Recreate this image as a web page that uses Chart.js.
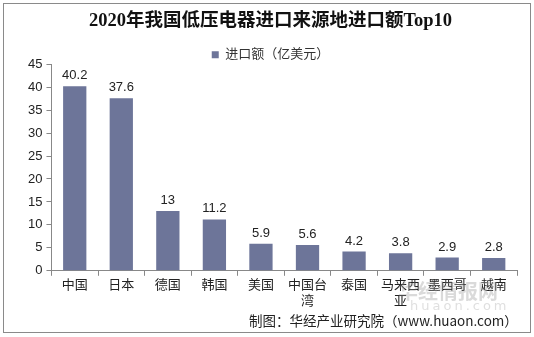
<!DOCTYPE html>
<html>
<head>
<meta charset="utf-8">
<script src="https://cdn.jsdelivr.net/npm/chart.js@4.4.0/dist/chart.umd.min.js"></script>
<style>
  html, body { margin: 0; padding: 0; background: #fff; }
  .wrap-chart { position: relative; width: 534px; height: 337px; }
  .frame { position: absolute; left: 3px; top: 3px; width: 526px; height: 328px; border: 1px solid #8a8a8a; pointer-events: none; }
  .source { position: absolute; left: 249px; top: 310px; font: 13.5px "Noto Sans CJK SC", sans-serif; color: #222; white-space: nowrap; }
  .mark { position: absolute; left: 398px; top: 276px; font: bold 20px "Noto Sans CJK SC", sans-serif; color: rgba(150,150,150,0.35); white-space: nowrap; }
  .mark2 { position: absolute; left: 410px; top: 298px; font: 13px "DejaVu Sans", sans-serif; letter-spacing: 3px; color: rgba(150,150,150,0.3); }
</style>
</head>
<body>
<div class="wrap-chart">
  <canvas width="534" height="337"></canvas>
  <div class="mark">华经情报网</div>
  <div class="mark2">huaon.com</div>
  <div class="source">制图：华经产业研究院（www.huaon.com）</div>
  <div class="frame"></div>
</div>
<script>
const countries = ['中国', '日本', '德国', '韩国', '美国', ['中国台', '湾'], '泰国', ['马来西', '亚'], '墨西哥', '越南'];
const imports = [40.2, 37.6, 13, 11.2, 5.9, 5.6, 4.2, 3.8, 2.9, 2.8];
const valueTicks = [0, 5, 10, 15, 20, 25, 30, 35, 40, 45];

const cjk = "'Liberation Sans', 'Noto Sans CJK SC', sans-serif";

// draw value over each bar
const barLabels = {
    id: 'barLabels',
    afterDatasetsDraw(chart) {
        const c = chart.ctx;
        c.save();
        c.font = '13px ' + cjk;
        c.fillStyle = '#222';
        c.textAlign = 'center';
        c.textBaseline = 'bottom';
        chart.getDatasetMeta(0).data.forEach((bar, i) => {
            c.fillText(imports[i], bar.x, bar.y - 4);
        });
        c.restore();
    }
};

// legend sits close to the plot, so trim its box
const tightLegend = {
    id: 'tightLegend',
    beforeInit(chart) {
        const fit = chart.legend.fit;
        chart.legend.fit = function () {
            fit.call(this);
            this.height -= 7;
        };
    }
};

const ctx = document.querySelector('.wrap-chart canvas').getContext('2d');
const chart = new Chart(ctx, {
    type: 'bar',
    data: {
        labels: countries,
        datasets: [{
            label: '进口额（亿美元）',
            data: imports,
            backgroundColor: '#6d7599',
            barPercentage: 0.5,
            categoryPercentage: 1
        }]
    },
    options: {
        responsive: false,
        animation: false,
        layout: { padding: { left: 24, right: 17, top: 2, bottom: 26 } },
        plugins: {
            title: {
                display: true,
                text: '2020年我国低压电器进口来源地进口额Top10',
                color: '#111',
                font: { family: "'Liberation Serif', 'Noto Sans CJK SC', serif", size: 18.5, weight: 'bold' },
                padding: { top: 8, bottom: 14 }
            },
            legend: {
                display: true,
                labels: {
                    boxWidth: 7, boxHeight: 7, padding: 2,
                    color: '#333',
                    font: { family: cjk, size: 13 }
                }
            },
            tooltip: { enabled: false }
        },
        scales: {
            x: {
                grid: { display: true, drawOnChartArea: false, offset: true, tickLength: 5, color: '#888' },
                border: { color: '#888' },
                ticks: { color: '#222', font: { family: cjk, size: 13 }, maxRotation: 0, autoSkip: false, padding: 2 }
            },
            y: {
                min: 0,
                max: 45,
                afterBuildTicks: axis => { axis.ticks = valueTicks.map(v => ({ value: v })); },
                grid: { display: true, drawOnChartArea: false, tickLength: 5, color: '#888' },
                border: { color: '#888' },
                ticks: { color: '#222', font: { family: cjk, size: 13 }, padding: 4 }
            }
        }
    },
    plugins: [barLabels, tightLegend]
});
</script>
</body>
</html>
